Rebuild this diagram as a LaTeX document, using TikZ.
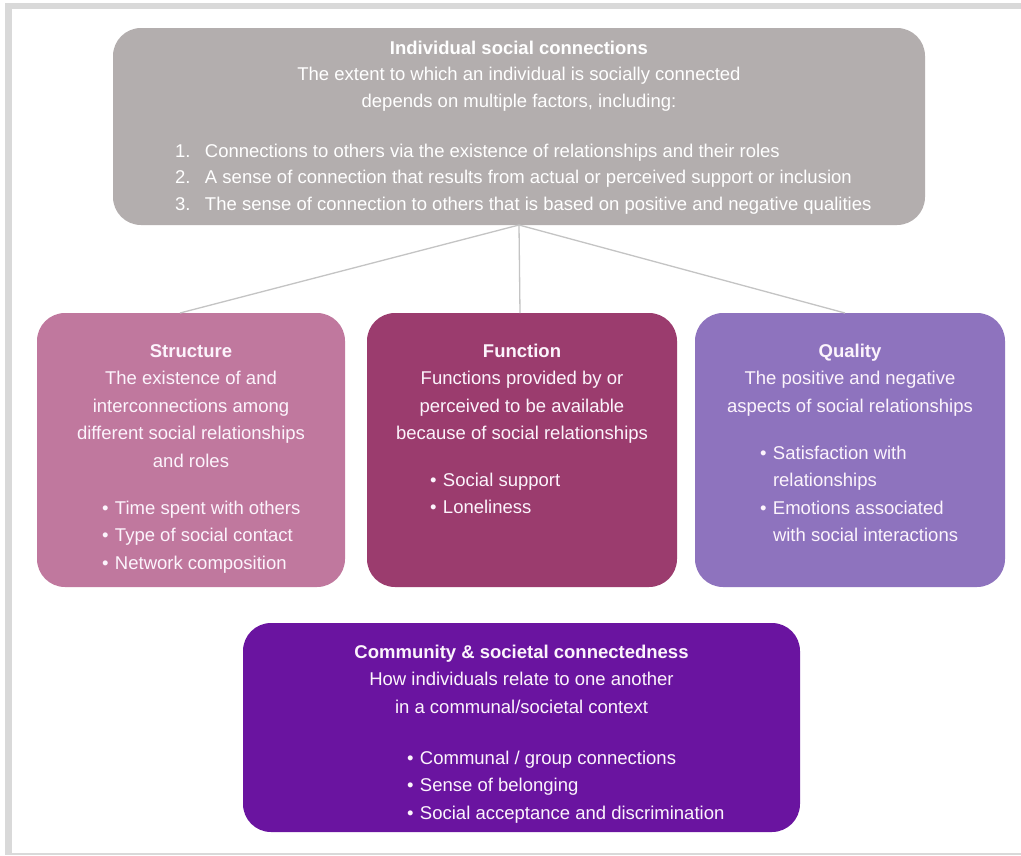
\documentclass[tikz,border=0pt]{standalone}
\usepackage{fontspec}
\setmainfont{Liberation Sans}
\usetikzlibrary{calc}
\definecolor{framegray}{HTML}{D9D9D9}
\definecolor{topgray}{HTML}{B3AEAE}
\definecolor{structpink}{HTML}{C0789E}
\definecolor{funcmag}{HTML}{9B3C6E}
\definecolor{qualpurp}{HTML}{8E73BE}
\definecolor{commpurp}{HTML}{6A14A0}
\definecolor{linkgray}{HTML}{C4C4C4}
\definecolor{softwhite}{HTML}{FCF4FC}
\begin{document}
\begin{tikzpicture}[x=1pt,y=-1pt,
  box/.style={rounded corners=28pt, inner sep=0pt, outer sep=0pt, draw=none},
  txt/.style={text=softwhite, inner sep=0pt, outer sep=0pt, align=center,
    font=\fontsize{18.5}{27.5}\selectfont},
  txtl/.style={text=softwhite, inner sep=0pt, outer sep=0pt, align=left,
    font=\fontsize{18.5}{27.5}\selectfont},
  toptxt/.style={text=white, inner sep=0pt, outer sep=0pt, align=center,
    font=\fontsize{18.5}{26.5}\selectfont},
  toptxtl/.style={text=white, inner sep=0pt, outer sep=0pt, align=left,
    font=\fontsize{18.5}{26.5}\selectfont},
  link/.style={draw=linkgray, line width=1.3pt}
]
\fill[white] (0,0) rectangle (1021,855);
\fill[framegray] (5,3) rectangle (1021,855);
\fill[white] (12,9) rectangle (1021,853);
\useasboundingbox (0,0) rectangle (1021,855);

% boxes
\node[box, fill=topgray, minimum width=812pt, minimum height=197pt] (top) at (519,126.5) {};
\node[box, fill=structpink, minimum width=308pt, minimum height=274pt] (s) at (191,450) {};
\node[box, fill=funcmag, minimum width=310pt, minimum height=274pt] (f) at (522,450) {};
\node[box, fill=qualpurp, minimum width=310pt, minimum height=274pt] (q) at (850,450) {};
\node[box, fill=commpurp, minimum width=557pt, minimum height=209pt] (c) at (521.5,727.5) {};

% connectors
\draw[link] (top.south) -- ($(s.north)+(-11,0)$);
\draw[link] (top.south) -- ($(f.north)+(-2,0)$);
\draw[link] (top.south) -- ($(q.north)+(-5,0)$);

% top box text
\node[toptxt, anchor=north] (topt) at (519,54-18.55)
  {\strut\textbf{Individual social connections}\\
   The extent to which an individual is socially connected\\
   depends on multiple factors, including:};
\node[toptxtl, anchor=north west] (topl) at (175,157-18.55)
  {\strut\makebox[30pt][l]{1.}Connections to others via the existence of relationships and their roles\\
   \makebox[30pt][l]{2.}A sense of connection that results from actual or perceived support or inclusion\\
   \makebox[30pt][l]{3.}The sense of connection to others that is based on positive and negative qualities};

% structure
\node[txt, anchor=north] (st) at (191,357-19.25)
  {\strut\textbf{Structure}\\
   The existence of and\\
   interconnections among\\
   different social relationships\\
   and roles};
\node[txtl, anchor=north west] (sl) at (102,514-19.25)
  {\strut\makebox[13pt][l]{•}Time spent with others\\
   \makebox[13pt][l]{•}Type of social contact\\
   \makebox[13pt][l]{•}Network composition};

% function
\node[txt, anchor=north] (ft) at (522,357-19.25)
  {\strut\textbf{Function}\\
   Functions provided by or\\
   perceived to be available\\
   because of social relationships};
\node[txtl, anchor=north west] (fl) at (430,486-19.25)
  {\strut\makebox[13pt][l]{•}Social support\\
   \makebox[13pt][l]{•}Loneliness};

% quality
\node[txt, anchor=north] (qt) at (850,357-19.25)
  {\strut\textbf{Quality}\\
   The positive and negative\\
   aspects of social relationships};
\node[txtl, anchor=north west] (ql) at (760,459-19.25)
  {\strut\makebox[13pt][l]{•}Satisfaction with\\
   \hspace*{13pt}relationships\\
   \makebox[13pt][l]{•}Emotions associated\\
   \hspace*{13pt}with social interactions};

% community
\node[txt, anchor=north] (ct) at (521.5,658-19.25)
  {\strut\textbf{Community \& societal connectedness}\\
   How individuals relate to one another\\
   in a communal/societal context};
\node[txtl, anchor=north west] (cl) at (407,764-19.25)
  {\strut\makebox[13pt][l]{•}Communal / group connections\\
   \makebox[13pt][l]{•}Sense of belonging\\
   \makebox[13pt][l]{•}Social acceptance and discrimination};
\end{tikzpicture}
\end{document}
